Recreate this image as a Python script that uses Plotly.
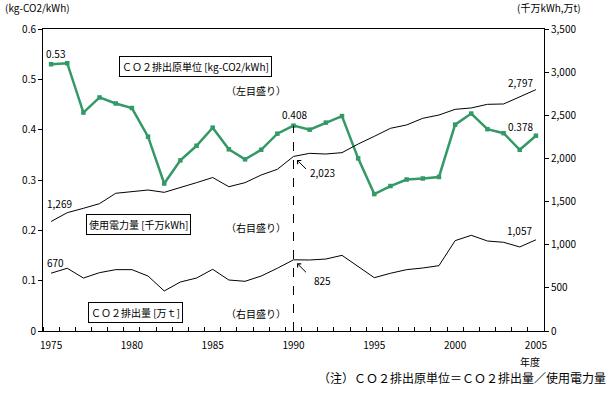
import plotly.graph_objects as go

years = list(range(1975, 2006))
factor = [0.53, 0.532, 0.434, 0.464, 0.452, 0.443, 0.386, 0.293, 0.339, 0.368,
          0.404, 0.361, 0.341, 0.360, 0.392, 0.408, 0.400, 0.414, 0.427, 0.343,
          0.272, 0.288, 0.301, 0.303, 0.306, 0.410, 0.432, 0.401, 0.393, 0.360, 0.388]
usage = [1269, 1371, 1422, 1476, 1596, 1611, 1634, 1607, 1661, 1719,
         1779, 1672, 1719, 1808, 1874, 2023, 2059, 2051, 2067, 2167,
         2256, 2349, 2388, 2465, 2503, 2569, 2585, 2627, 2631, 2716, 2797]
emission = [670, 727, 614, 676, 711, 711, 637, 464, 568, 614,
            715, 591, 576, 637, 727, 825, 823, 834, 877, 745,
            618, 669, 711, 730, 757, 1047, 1109, 1043, 1028, 974, 1057]

left_ticks = [0, 0.1, 0.2, 0.3, 0.4, 0.5, 0.6]
left_text = ["0", "0.1", "0.2", "0.3", "0.4", "0.5", "0.6"]
right_ticks = [0, 500, 1000, 1500, 2000, 2500, 3000, 3500]
right_text = ["0", "500", "1,000", "1,500", "2,000", "2,500", "3,000", "3,500"]
x_ticks = [1975, 1980, 1985, 1990, 1995, 2000, 2005]

FONT = "Noto Sans CJK JP, sans-serif"
GREEN = "#339966"

fig = go.Figure()
fig.add_trace(go.Scatter(x=years, y=factor, mode="lines+markers", yaxis="y",
                         line=dict(color=GREEN, width=2.5),
                         marker=dict(symbol="square", size=4.5, color=GREEN),
                         showlegend=False))
fig.add_trace(go.Scatter(x=years, y=usage, mode="lines", yaxis="y2",
                         line=dict(color="black", width=1), showlegend=False))
fig.add_trace(go.Scatter(x=years, y=emission, mode="lines", yaxis="y2",
                         line=dict(color="black", width=1), showlegend=False))

fig.add_shape(type="line", xref="x", yref="y", x0=1990, x1=1990, y0=0, y1=factor[years.index(1990)],
              line=dict(color="black", width=1, dash="dash"))

ann = []
def lab(text, x, y, yref, xs, ys):
    ann.append(dict(text=text, x=x, y=y, xref="x", yref=yref, xshift=xs, yshift=ys,
                    xanchor="center", yanchor="middle",
                    showarrow=False, font=dict(size=10, color="black", family=FONT)))

i90 = years.index(1990)
lab("0.53", 1975, factor[0], "y", 4, 11)
lab("0.408", 1990, factor[i90], "y", 1, 11)
lab("0.378", 2005, factor[-1], "y", -15, 9)
lab("2,797", 2005, usage[-1], "y2", -15, 7)
lab("1,269", 1975, usage[0], "y2", 8, 18)
lab("670", 1975, emission[0], "y2", 4, 11)
lab("1,057", 2005, emission[-1], "y2", -16, 9)
lab("2,023", 1990, usage[i90], "y2", 29, -16)
lab("825", 1990, emission[i90], "y2", 29, -21)

for val in (usage[i90], emission[i90]):
    ann.append(dict(text="", x=1990, y=val, xref="x", yref="y2", showarrow=True,
                    ax=14, ay=14, arrowhead=4, arrowsize=1, arrowwidth=1,
                    arrowcolor="black", standoff=5))

def box(text, px, py):
    ann.append(dict(text=text, x=px, y=py, xref="paper", yref="paper", showarrow=False,
                    xanchor="center", yanchor="middle",
                    font=dict(size=10, color="black", family=FONT),
                    bordercolor="black", borderwidth=1, borderpad=2, bgcolor="white"))

def txt(text, px, py, size=10, xanchor="center"):
    ann.append(dict(text=text, x=px, y=py, xref="paper", yref="paper", showarrow=False,
                    xanchor=xanchor, yanchor="middle",
                    font=dict(size=size, color="black", family=FONT)))

box("ＣＯ２排出原単位 [kg-CO2/kWh]", 0.304, 0.876)
txt("（左目盛り）", 0.425, 0.798)
box("使用電力量 [千万kWh]", 0.191, 0.351)
txt("（右目盛り）", 0.425, 0.344)
box("ＣＯ２排出量 [万ｔ]", 0.184, 0.060)
txt("（右目盛り）", 0.425, 0.059)
txt("(kg-CO2/kWh)", -0.080, 1.071, xanchor="left")
txt("(千万kWh,万t)", 0.942, 1.071, xanchor="left")
txt("年度", 0.972, -0.102)
txt("（注）ＣＯ２排出原単位＝ＣＯ２排出量／使用電力量", 1.128, -0.154, size=12, xanchor="right")

fig.update_layout(
    width=613, height=393,
    margin=dict(l=43, r=69, t=29, b=62),
    paper_bgcolor="white", plot_bgcolor="white",
    font=dict(family=FONT, size=10, color="black"),
    annotations=ann,
    xaxis=dict(range=[1974.5, 2005.5], tickvals=x_ticks, ticktext=[str(v) for v in x_ticks],
               ticks="", ticklabelstandoff=5, showgrid=False, zeroline=False, showline=True,
               linecolor="black", linewidth=1, mirror=True,
               minor=dict(tick0=1974.5, dtick=1, ticks="inside", ticklen=4,
                          tickcolor="black", showgrid=False)),
    yaxis=dict(range=[0, 0.6], tickvals=left_ticks, ticktext=left_text, ticks="outside",
               ticklen=4, tickcolor="black", showgrid=False, zeroline=False,
               showline=True, linecolor="black", linewidth=1),
    yaxis2=dict(range=[0, 3500], tickvals=right_ticks, ticktext=right_text, ticks="outside",
                ticklen=4, tickcolor="black", showgrid=False, zeroline=False,
                showline=True, linecolor="black", linewidth=1,
                overlaying="y", side="right"),
)

fig.write_html("out.html", config={"displayModeBar": False},
               post_script="document.body.style.margin='0';document.body.style.overflow='hidden';")
